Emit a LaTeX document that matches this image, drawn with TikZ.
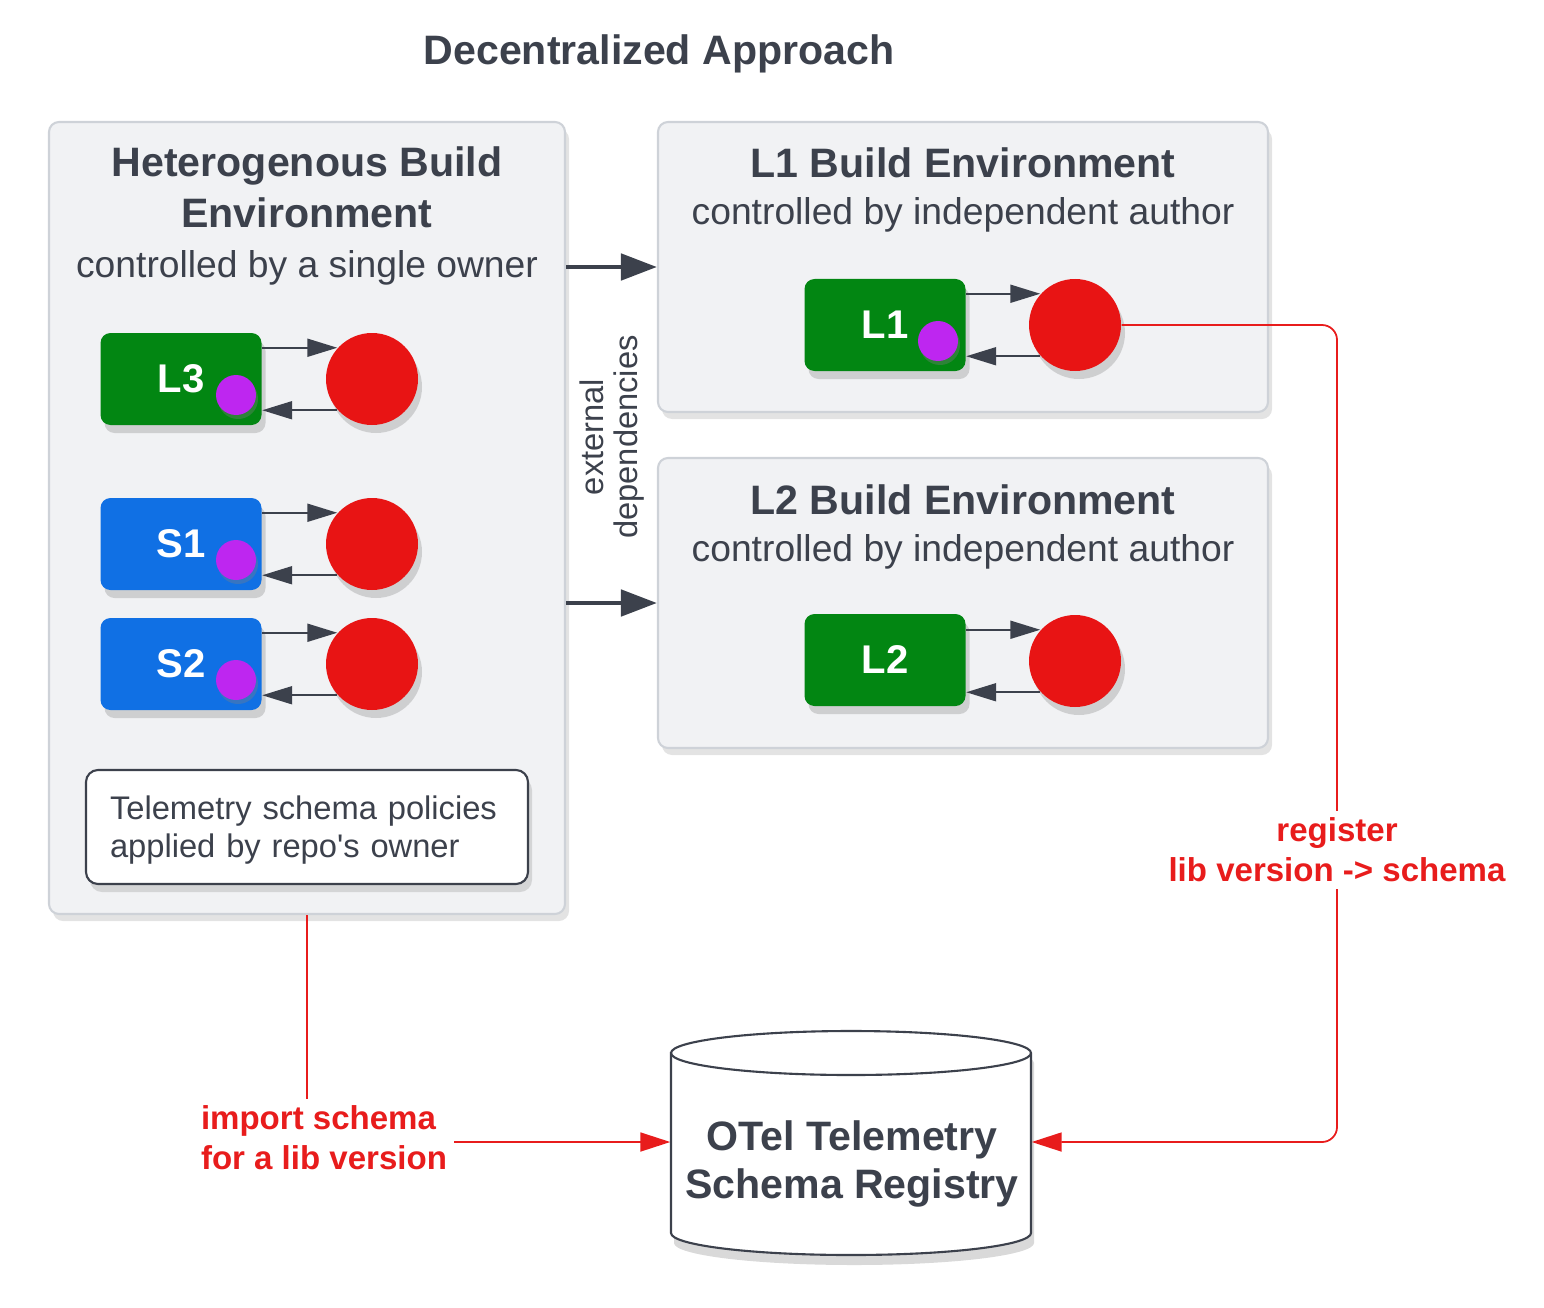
\documentclass[tikz,border=0pt]{standalone}
\usepackage{fontspec}
\setmainfont{Liberation Sans}
\newfontfamily\plainquote{Liberation Sans}
\usetikzlibrary{arrows.meta,positioning,calc,shadows}
\definecolor{ink}{RGB}{60,65,76}
\definecolor{boxfill}{RGB}{241,242,244}
\definecolor{boxline}{RGB}{206,210,216}
\definecolor{libgreen}{RGB}{2,134,18}
\definecolor{svcblue}{RGB}{16,112,228}
\definecolor{hookred}{RGB}{232,20,20}
\definecolor{agentpurple}{RGB}{190,38,240}
\definecolor{linkred}{RGB}{232,28,28}
\tikzset{
  envbox/.style = {draw=boxline, line width=0.6pt, fill=boxfill, rounded corners=1mm, inner sep=0pt,
    drop shadow={opacity=0.22, shadow xshift=0.4mm, shadow yshift=-0.7mm}},
  libbox/.style = {rounded corners=1mm, minimum width=16.1mm, minimum height=9.2mm, inner sep=0pt,
    text=white, font=\fontsize{11.4}{13}\selectfont\bfseries,
    drop shadow={opacity=0.3, shadow xshift=0.4mm, shadow yshift=-0.8mm}},
  hook/.style = {circle, fill=hookred, minimum size=9.2mm, inner sep=0pt,
    drop shadow={opacity=0.3, shadow xshift=0.4mm, shadow yshift=-0.8mm}},
  agent/.style = {circle, fill=agentpurple, minimum size=4mm, inner sep=0pt,
    drop shadow={opacity=0.35, shadow xshift=0.2mm, shadow yshift=-0.4mm}},
  notebox/.style = {draw=ink, line width=0.6pt, fill=white, rounded corners=1.2mm, inner ysep=0pt,
    text=ink, font=\fontsize{9.3}{10.8}\selectfont,
    drop shadow={opacity=0.25, shadow xshift=0.4mm, shadow yshift=-0.8mm}},
  heading/.style = {text=ink, inner sep=0pt, font=\fontsize{11.7}{14}\selectfont\bfseries},
  subhead/.style = {text=ink, inner sep=0pt, font=\fontsize{10.6}{12.6}\selectfont},
  redlabel/.style = {text=linkred, fill=white, inner sep=2pt, font=\fontsize{9.4}{11.4}\selectfont\bfseries},
  pairarrow/.style = {draw=ink, line width=0.55pt, -{Triangle[length=3mm,width=1.8mm]}},
  deparrow/.style = {draw=ink, line width=1.4pt, -{Triangle[length=3.6mm,width=2.6mm]}},
  regline/.style = {draw=linkred, line width=0.5pt, -{Triangle[length=3mm,width=1.9mm]}},
}

\begin{document}
\begin{tikzpicture}[x=0.1mm, y=-0.1mm]
\useasboundingbox (0,0) rectangle (1544,1307);

\node[heading, anchor=base] (title) at (659,65) {Decentralized Approach};

% build environments
\node[envbox, minimum width=51.6mm, minimum height=79.2mm] (het) at (307,518) {};
\node[envbox, minimum width=61mm, minimum height=29mm] (l1env) at (963,267) {};
\node[envbox, minimum width=61mm, minimum height=29mm] (l2env) at (963,603) {};

\node[heading, anchor=base] (hettitle) at (307,177) {Heterogenous Build};
\node[heading, anchor=base] (hettitleb) at (307,228) {Environment};
\node[subhead, anchor=base] (hetsub) at (307,277) {controlled by a single owner};
\node[heading, anchor=base] (l1title) at (963,178) {L1 Build Environment};
\node[subhead, anchor=base] (l1sub) at (963,225) {controlled by independent author};
\node[heading, anchor=base] (l2title) at (963,514) {L2 Build Environment};
\node[subhead, anchor=base] (l2sub) at (963,561) {controlled by independent author};

% libraries and services with their hooks
\foreach \name/\lbl/\col/\y in {l3/L3/libgreen/379, s1/S1/svcblue/544, s2/S2/svcblue/664}{
  \node[libbox, fill=\col] (\name) at (181,\y) {\lbl};
  \node[agent] (\name agent) at ($(\name)+(55,16)$) {};
  \node[hook] (\name hook) at (372,\y) {};
  \draw[pairarrow] (\name.east |- \name hook.138) -- (\name hook.138);
  \draw[pairarrow] (\name hook.222) -- (\name.east |- \name hook.222);
}

\node[libbox, fill=libgreen] (l1) at (885,325) {L1};
\node[agent] (l1agent) at ($(l1)+(53,16)$) {};
\node[hook] (l1hook) at (1075,325) {};
\draw[pairarrow] (l1.east |- l1hook.138) -- (l1hook.138);
\draw[pairarrow] (l1hook.222) -- (l1.east |- l1hook.222);

\node[libbox, fill=libgreen] (l2) at (885,660) {L2};
\node[hook] (l2hook) at (1075,661) {};
\draw[pairarrow] (l2.east |- l2hook.138) -- (l2hook.138);
\draw[pairarrow] (l2hook.222) -- (l2.east |- l2hook.222);

\node[notebox, minimum width=44.2mm, minimum height=11.4mm, text width=39.4mm, align=left] (policy) at (307,827) {};
\node[text=ink, inner sep=0pt, align=left, text width=39.4mm, font=\fontsize{9.3}{10.8}\selectfont] (policytext) at (307,830)
  {Telemetry schema policies\\applied by repo{\plainquote'}s owner};

% external dependencies
\draw[deparrow] (het.east |- l1env.west) -- (l1env.west);
\draw[deparrow] (het.east |- l2env.west) -- (l2env.west);
\node[rotate=90, align=center, text=ink, inner sep=0pt, font=\fontsize{9.3}{9.7}\selectfont] (deps) at (612,437)
  {external\\dependencies};

% schema registry
\path[draw=ink, line width=0.6pt, fill=white, drop shadow={opacity=0.3, shadow xshift=0.3mm, shadow yshift=-1mm}]
  (671,1053) -- (671,1233) arc[start angle=180, end angle=360, x radius=18mm, y radius=2.2mm]
  -- (1031,1053) arc[start angle=0, end angle=180, x radius=18mm, y radius=2.2mm] -- cycle;
\draw[ink, line width=0.6pt] (671,1053) arc[start angle=180, end angle=360, x radius=18mm, y radius=2.2mm];
\node[inner sep=0pt, minimum width=36mm, minimum height=18mm] (reg) at (851,1142) {};
\node[heading, align=center, font=\fontsize{11.7}{13.7}\selectfont\bfseries] (regname) at (852,1164)
  {OTel Telemetry\\Schema Registry};

% registry links
\coordinate (regbend) at (1337,1142);
\draw[regline] (het.south) |- (reg.west);
\draw[regline, rounded corners=1.5mm] (l1hook.east) -| (regbend) -- (reg.east);
\node[redlabel, align=left] (importlbl) at (324,1138) {import schema\\for a lib version};
\node[redlabel, align=center] (registerlbl) at (1337,850) {register\\lib version -> schema};
\end{tikzpicture}
\end{document}
